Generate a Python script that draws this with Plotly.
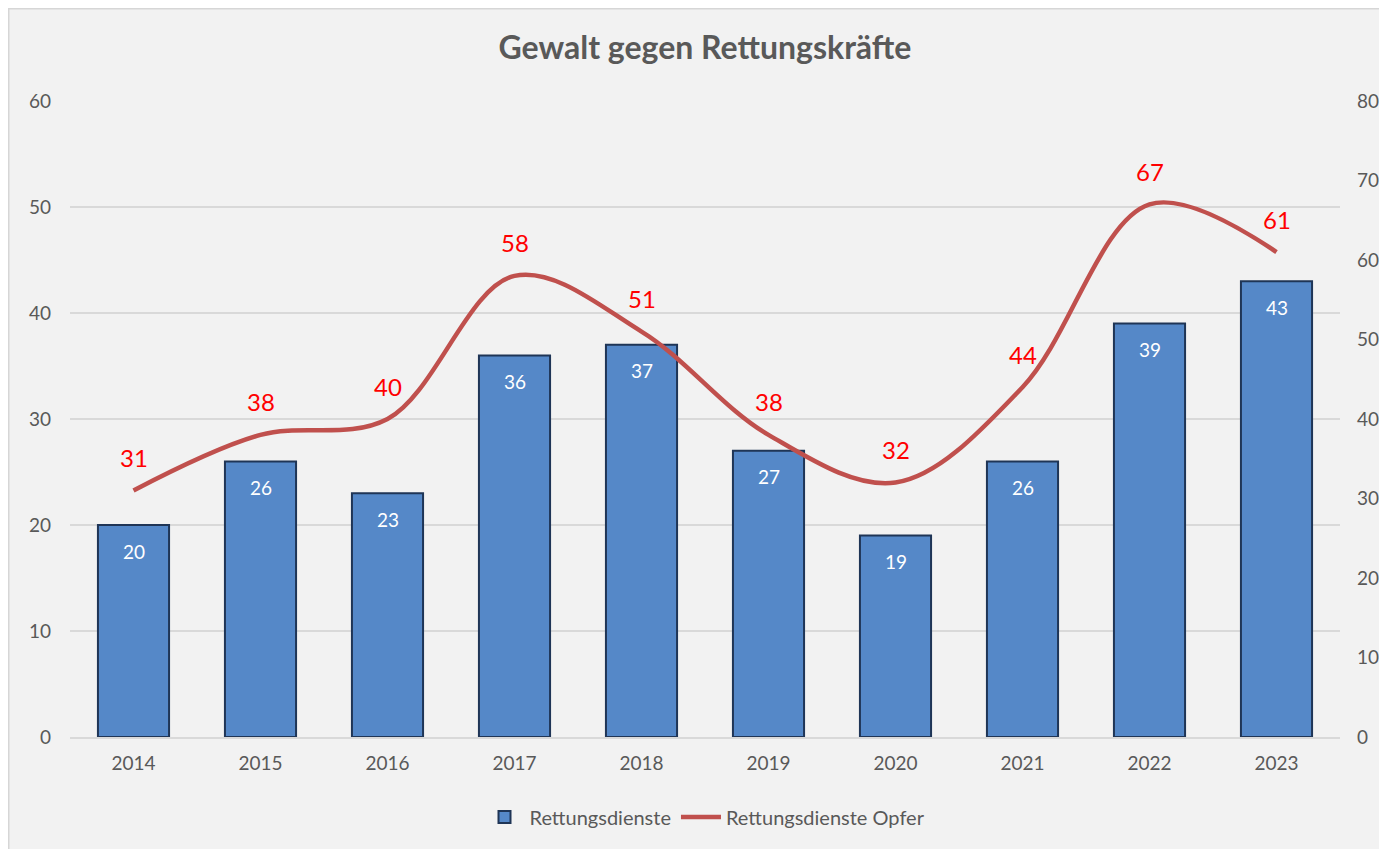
import plotly.graph_objects as go

# data
years = ["2014", "2015", "2016", "2017", "2018", "2019", "2020", "2021", "2022", "2023"]
rettungsdienste = [20, 26, 23, 36, 37, 27, 19, 26, 39, 43]
opfer = [31, 38, 40, 58, 51, 38, 32, 44, 67, 61]

# the page has an 8px body margin, so the figure is a bit smaller than the window
W, H = 1379, 841
ml, mr, mt, mb = 62, 47, 93, 112

grey = "#595959"
font_name = "Lato"

fig = go.Figure()

fig.add_trace(go.Bar(
    x=years, y=rettungsdienste, name="Rettungsdienste",
    marker=dict(color="#5588c8", line=dict(color="#1f3556", width=2)),
    width=0.56,
))

fig.add_trace(go.Scatter(
    x=years, y=opfer, name="Rettungsdienste Opfer", yaxis="y2",
    mode="lines", line=dict(color="#c0504d", width=4.5, shape="spline", smoothing=1.0),
))

# value labels (category index on x, so "2014" is not read as a number)
annots = []
for i, v in enumerate(rettungsdienste):
    annots.append(dict(x=i, y=v, xref="x", yref="y", text=str(v), showarrow=False,
                       yshift=-26, font=dict(color="white", size=19, family=font_name)))
for i, v in enumerate(opfer):
    annots.append(dict(x=i, y=v, xref="x", yref="y2", text=str(v), showarrow=False,
                       yshift=33, font=dict(color="#ff0000", size=24, family=font_name)))

# thin grey frame along the top and left edge
fig.add_shape(type="rect", xref="paper", yref="paper",
              x0=-ml / (W - ml - mr), x1=1.2, y0=-0.3, y1=1 + mt / (H - mt - mb),
              fillcolor="rgba(0,0,0,0)", line=dict(color="#d6d6d6", width=3), layer="below")

fig.update_layout(
    width=W, height=H,
    margin=dict(l=ml, r=mr, t=mt, b=mb),
    paper_bgcolor="#f2f2f2", plot_bgcolor="rgba(0,0,0,0)",
    font=dict(family=font_name, color=grey, size=19),
    title=dict(text="<b>Gewalt gegen Rettungskräfte</b>", x=0.5, xref="paper",
               y=1 - 40 / H, yanchor="middle", font=dict(size=32, color=grey, family=font_name)),
    xaxis=dict(type="category", range=[-0.5, len(years) - 0.5], showgrid=False,
               showline=True, linecolor="#d9d9d9", linewidth=2, ticks="",
               tickfont=dict(size=19, color=grey), ticklabelstandoff=8),
    yaxis=dict(range=[0, 60], dtick=10, showgrid=True, gridcolor="#d9d9d9", gridwidth=2,
               zeroline=False, showline=False, ticks="", tickfont=dict(size=19, color=grey),
               ticklabelstandoff=18),
    yaxis2=dict(range=[0, 80], dtick=10, overlaying="y", side="right", showgrid=False,
                zeroline=False, showline=False, ticks="", tickfont=dict(size=19, color=grey),
                ticklabelstandoff=16, automargin=False),
    legend=dict(orientation="h", x=0.5, xanchor="center", y=-80 / (H - mt - mb),
                yanchor="middle", font=dict(size=20, color=grey), bgcolor="rgba(0,0,0,0)",
                itemwidth=40),
    annotations=annots,
)

fig.write_html("out.html")
